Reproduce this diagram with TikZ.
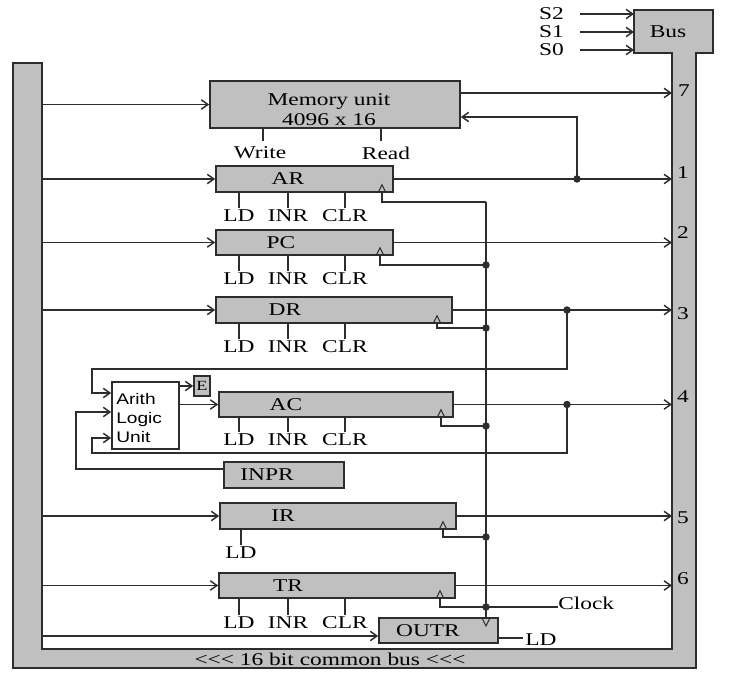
\documentclass[tikz,border=0pt]{standalone}
\usepackage{fontspec}
\setmainfont{Liberation Serif}[FakeStretch=1.3]
\newfontfamily\alufont{Liberation Sans}[FakeStretch=1.25]
\usetikzlibrary{arrows.meta,fit}
\definecolor{busgray}{RGB}{192,192,192}
\definecolor{wire}{RGB}{45,45,45}

\begin{document}
\begin{tikzpicture}[x=0.75pt, y=-0.75pt,
  reg/.style={draw=wire, fill=busgray, line width=1.2pt, inner sep=0pt},
  txt/.style={inner sep=0pt, font=\fontsize{13.5}{15}\selectfont},
  sig/.style={draw=wire, line width=1.1pt},
  arr/.style={sig, -{Straight Barb[length=5pt,width=7pt]}},
  clk/.style={draw=wire, line width=0.8pt},
  dot/.style={fill=wire}
]
\useasboundingbox (0,0) rectangle (729,680);

% common bus and bus selector
\draw[fill=busgray, draw=wire, line width=1.2pt] (13,63) -- (42,63) -- (42,649) -- (672,649) -- (672,53) -- (634,53) -- (634,10) -- (713,10) -- (713,53) -- (696,53) -- (696,668) -- (13,668) -- cycle;
\coordinate (busL) at (42,0);
\coordinate (busR) at (672,0);
\coordinate (busbox) at (634,0);
\node[txt] (bus) at (668,32) {Bus};
\node[txt] (bustxt) at (330,659) {<{}<{}< 16 bit common bus <{}<{}<};
\foreach \s/\y in {S2/14,S1/32,S0/50} {
  \node[txt, anchor=east] (\s) at (564,\y) {\s};
  \draw[arr] ([xshift=12pt]\s.east) -- (busbox |- \s.east);
}

% memory
\node[reg, fit={(210,81) (460,128)}] (mem) {};
\node[txt, align=center] (tmem) at (329,110) {Memory unit\\4096 x 16};
\draw[arr] (busL |- mem.west) -- (mem.west);
\draw[arr] (mem.east |- 0,93) -- (busR |- 0,93);
\node[txt] (n7) at (684,91) {7};
\node[txt] (write) at (260,153) {Write};
\node[txt] (read) at (386,153) {Read};
\draw[sig] (mem.south -| 263,0) -- (263,141);
\draw[sig] (mem.south -| 381,0) -- (381,141);

% registers
\foreach \r/\xa/\ya/\xb/\yb/\tx in {AR/216/166/393/192/288, PC/216/230/393/255/281,
    DR/216/297/452/323/285, AC/219/392/453/417/286, IR/220/503/456/529/283, TR/219/573/455/598/288} {
  \node[reg, fit={(\xa,\ya) (\xb,\yb)}] (\r) {};
  \node[txt] (t\r) at (\tx,{(\ya+\yb)/2}) {\r};
}
\node[reg, fit={(224,462) (344,488)}] (INPR) {};
\node[txt] (tINPR) at (267,475) {INPR};
\node[reg, fit={(379,618) (498,643)}] (OUTR) {};
\node[txt] (tOUTR) at (428,631) {OUTR};

% bus to registers, registers to bus
\foreach \r in {AR,PC,DR,IR,TR}
  \draw[arr] (busL |- \r.west) -- (\r.west);
\draw[arr] (busL |- 0,636) -- (OUTR.west |- 0,636);
\foreach \r/\n/\ny in {AR/1/173, PC/2/233, DR/3/314, AC/4/397, IR/5/518, TR/6/579} {
  \draw[arr] (\r.east) -- (busR |- \r.east);
  \node[txt] (n\n) at (683,\ny) {\n};
}
\fill[dot] (577,0 |- AR.east) circle[radius=2.8pt];
\draw[arr] (577,0 |- AR.east) |- (mem.east |- 0,117);

% control inputs
\foreach \r/\ly in {AR/216, PC/279, DR/347, AC/440, TR/623} {
  \foreach \x/\c in {239/LD, 288/INR, 345/CLR} {
    \node[txt] (\r\c) at (\x,\ly) {\c};
    \draw[sig] (\r\c.north |- \r.south) -- ([yshift=1.5pt]\r\c.north);
  }
}
\node[txt] (IRLD) at (241,553) {LD};
\draw[sig] (IRLD.north |- IR.south) -- ([yshift=1.5pt]IRLD.north);
\node[txt, anchor=west] (oLD) at (525,640) {LD};
\draw[sig] (OUTR.east |- 0,638) -- ([xshift=-1.5pt]oLD.west |- 0,638);

% clock
\foreach \r/\cx/\cy in {AR/382/202, PC/380/265, DR/437/328, AC/441/426, IR/443/537, TR/440/607} {
  \draw[clk] (\cx,0 |- \r.south) ++(-3.5,-1) -- ++(3.5,-7) -- ++(3.5,7) -- cycle;
  \draw[sig] (\cx,0 |- \r.south) |- (486,\cy);
}
\foreach \cy in {265,328,426,537,607}
  \fill[dot] (486,\cy) circle[radius=2.8pt];
\draw[sig] (486,202) -- (486,0 |- OUTR.north);
\draw[clk] (482.5,619) -- (486,626) -- (489.5,619);
\node[txt, anchor=west] (clock) at (558,603) {Clock};
\draw[sig] (486,607) -- (clock.west |- 0,607);

% ALU and E
\node[draw=wire, fill=white, line width=1.2pt, inner sep=0pt, fit={(112,382) (179,449)}] (ALU) {};
\node[anchor=west, inner sep=0pt, align=left, font=\alufont\fontsize{11.5}{14.25}\selectfont] (tALU) at (116,418) {Arith\\Logic\\Unit};
\node[reg, fit={(194,376) (210,396)}] (E) {};
\node[txt, font=\fontsize{10.5}{11}\selectfont] (tE) at (E.center) {E};
\draw[arr] (ALU.east |- E.west) -- (E.west);
\draw[arr] (ALU.east |- AC.west) -- (AC.west);
\fill[dot] (567,0 |- DR.east) circle[radius=2.8pt];
\fill[dot] (567,0 |- AC.east) circle[radius=2.8pt];
\draw[arr] (567,0 |- DR.east) |- (92,369) |- (ALU.west |- 0,393);
\draw[arr] (INPR.west |- 0,469) -| (76,412) -- (ALU.west |- 0,412);
\draw[arr] (567,0 |- AC.east) |- (92,453) |- (ALU.west |- 0,438);
\end{tikzpicture}
\end{document}
